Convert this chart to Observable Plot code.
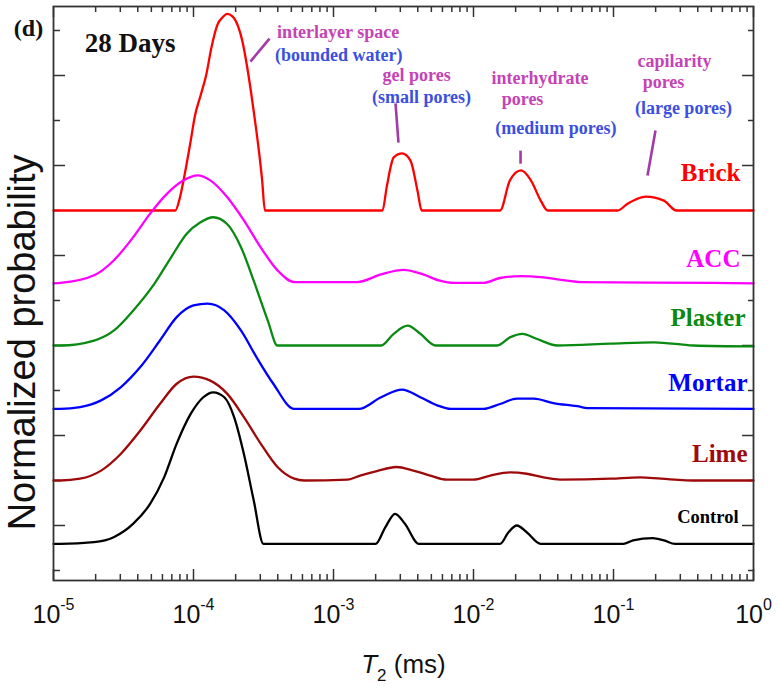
<!DOCTYPE html>
<html><head><meta charset="utf-8">
<script src="https://cdn.jsdelivr.net/npm/d3@7"></script>
<script src="https://cdn.jsdelivr.net/npm/@observablehq/plot@0.6"></script>
<style>
body{margin:0;background:#fff;}
#chart svg{display:block;}
</style>
</head><body><div id="chart"></div>
<script>
// ---------- data ----------
const seriesNames  = ["Brick", "ACC", "Plaster", "Mortar", "Lime", "Control"];
const seriesColors = ["#ff0000", "#ff00ff", "#0a8a12", "#0000ff", "#9e0a0a", "#000000"];

// log10(T2 / ms) sample positions and normalized probability (offset per series)
const brickLog = [-5,-4.13,-4.10,-4.06,-4.02,-3.99,-3.95,-3.91,-3.87,-3.83,-3.79,-3.76,-3.72,-3.68,-3.65,-3.62,-3.59,-3.56,-3.53,-3.51,-3.49,-2.65,-2.62,-2.57,-2.51,-2.45,-2.40,-2.37,-1.81,-1.74,-1.66,-1.59,-1.52,-1.47,-0.97,-0.90,-0.77,-0.64,-0.55,0];
const brickP   = [8.0,8.0,8.25,8.85,9.55,10.1,10.55,11.0,11.65,12.12,12.3,12.37,12.31,12.08,11.75,11.25,10.65,9.98,9.25,8.68,8.0,8.0,8.52,9.18,9.27,9.11,8.44,8.0,8.0,8.67,8.89,8.67,8.22,8.0,8.0,8.15,8.31,8.22,8.0,8.0];

const accLog = [-5,-4.95,-4.71,-4.57,-4.43,-4.31,-4.19,-4.07,-3.97,-3.88,-3.76,-3.64,-3.52,-3.40,-3.28,-2.83,-2.66,-2.50,-2.36,-2.24,-2.14,-1.93,-1.81,-1.66,-1.52,-1.33,-1.24,-0.30,0];
const accP   = [6.38,6.39,6.56,6.89,7.41,7.93,8.37,8.67,8.78,8.67,8.30,7.78,7.18,6.67,6.41,6.41,6.58,6.68,6.58,6.44,6.39,6.39,6.50,6.54,6.52,6.44,6.41,6.39,6.38];

const plasterLog = [-5,-4.95,-4.71,-4.57,-4.43,-4.28,-4.16,-4.05,-3.95,-3.86,-3.76,-3.66,-3.57,-3.47,-3.40,-2.66,-2.57,-2.47,-2.38,-2.27,-1.83,-1.74,-1.65,-1.55,-1.40,-1.02,-0.71,-0.43,0];
const plasterP   = [5.0,5.0,5.11,5.33,5.78,6.37,6.96,7.48,7.74,7.85,7.70,7.18,6.44,5.56,5.0,5.0,5.26,5.44,5.26,5.0,5.0,5.18,5.26,5.15,5.0,5.04,5.07,5.0,4.98];

const mortarLog = [-5,-4.95,-4.81,-4.66,-4.52,-4.38,-4.24,-4.12,-4.00,-3.90,-3.78,-3.66,-3.55,-3.43,-3.28,-2.82,-2.66,-2.51,-2.38,-2.26,-2.16,-1.93,-1.81,-1.69,-1.57,-1.43,-1.24,-1.19,0];
const mortarP   = [3.59,3.59,3.63,3.78,4.07,4.52,5.11,5.63,5.89,5.93,5.78,5.33,4.74,4.15,3.59,3.59,3.85,4.02,3.85,3.67,3.59,3.59,3.70,3.82,3.82,3.72,3.64,3.61,3.59];

const limeLog = [-5,-4.95,-4.81,-4.66,-4.52,-4.38,-4.24,-4.12,-4.00,-3.88,-3.76,-3.64,-3.52,-3.40,-3.28,-3.21,-2.90,-2.81,-2.69,-2.55,-2.43,-2.31,-2.19,-2.00,-1.88,-1.74,-1.62,-1.50,-1.38,-1.02,-0.81,-0.66,-0.40,0];
const limeP   = [2.0,2.0,2.04,2.22,2.59,3.11,3.70,4.15,4.31,4.22,3.93,3.41,2.82,2.30,2.04,2.0,2.02,2.11,2.21,2.30,2.22,2.11,2.02,2.02,2.11,2.18,2.15,2.07,2.02,2.04,2.07,2.04,2.0,2.0];

const controlLog = [-5,-4.95,-4.71,-4.57,-4.43,-4.31,-4.21,-4.12,-4.02,-3.93,-3.86,-3.78,-3.71,-3.64,-3.57,-3.50,-2.70,-2.63,-2.56,-2.49,-2.39,-1.81,-1.75,-1.69,-1.62,-1.52,-0.93,-0.86,-0.72,-0.64,-0.56,0];
const controlP   = [0.59,0.59,0.63,0.74,1.04,1.48,2.07,2.82,3.48,3.85,3.96,3.85,3.41,2.59,1.56,0.59,0.59,0.96,1.26,1.04,0.59,0.59,0.85,1.0,0.85,0.59,0.59,0.67,0.72,0.67,0.59,0.59];

// series labels (right side)
const labelT2 = [0.807, 0.807, 0.877, 0.906, 0.906, 0.782];
const labelY  = [8.84, 6.93, 5.62, 4.16, 2.60, 1.18];

// pore annotations
const annoText  = ["interlayer space", "(bounded water)", "gel pores", "(small pores)", "interhydrate", "pores", "(medium pores)", "capilarity", "pores", "(large pores)"];
const annoT2    = [1.08e-3, 1.09e-3, 3.92e-3, 4.25e-3, 0.0299, 0.0224, 0.0388, 0.273, 0.2275, 0.316];
const annoY     = [11.96, 11.44, 11.0, 10.51, 10.93, 10.47, 9.82, 11.31, 10.84, 10.27];
const annoKind  = ["type", "size", "type", "size", "type", "type", "size", "type", "type", "size"];

// annotation pointer segments (log10 T2, y)
const ptrLog1 = [-3.593, -2.557, -1.664, -0.700];
const ptrY1   = [11.31, 10.38, 9.33, 9.78];
const ptrLog2 = [-3.457, -2.536, -1.664, -0.757];
const ptrY2   = [11.82, 9.51, 9.04, 8.78];

// axis ticks
const xMajor = [1e-5, 1e-4, 1e-3, 1e-2, 1e-1, 1];
const xMinorMultipliers = [2, 3, 4, 5, 6, 7, 8, 9];
const yLong  = [1, 3, 5, 7, 9, 11];
const yShort = [0, 2, 4, 6, 8, 10, 12];

// ---------- build tables ----------
const logs  = [brickLog, accLog, plasterLog, mortarLog, limeLog, controlLog];
const probs = [brickP, accP, plasterP, mortarP, limeP, controlP];
const rows = [];
seriesNames.forEach((s, i) => logs[i].forEach((l, j) => rows.push({series: s, T2: 10 ** l, p: probs[i][j]})));
const labels = seriesNames.map((s, i) => ({series: s, T2: labelT2[i], y: labelY[i]}));
const annos = annoText.map((t, i) => ({text: t, T2: annoT2[i], y: annoY[i], kind: annoKind[i]}));
const ptrs = ptrLog1.map((l, i) => ({x1: 10 ** l, y1: ptrY1[i], x2: 10 ** ptrLog2[i], y2: ptrY2[i]}));
const xMinor = xMajor.slice(0, -1).flatMap(d => xMinorMultipliers.map(k => k * d));

// ---------- layout ----------
const W = 780, H = 688, mL = 53, mR = 27, mT = 6, mB = 108;
const fW = W - mL - mR, fH = H - mT - mB;
const serif = "'Liberation Serif', 'Times New Roman', serif";
const sans = "'Liberation Sans', Arial, sans-serif";
const axisColor = "#333";

const chart = Plot.plot({
  width: W, height: H,
  marginLeft: mL, marginRight: mR, marginTop: mT, marginBottom: mB,
  x: {type: "log", domain: [1e-5, 1], axis: null},
  y: {domain: [-10 / 45, 564 / 45], axis: null},
  color: {domain: seriesNames, range: seriesColors},
  style: {background: "#fff", overflow: "visible"},
  marks: [
    // ticks (inward)
    Plot.ruleX(xMajor, {x: d => d, insetTop: fH - 11, stroke: axisColor, strokeWidth: 1.5}),
    Plot.ruleX(xMinor, {x: d => d, insetTop: fH - 6, stroke: axisColor, strokeWidth: 1.5}),
    Plot.ruleX(xMajor, {x: d => d, insetBottom: fH - 11, stroke: axisColor, strokeWidth: 1.5}),
    Plot.ruleX(xMinor, {x: d => d, insetBottom: fH - 6, stroke: axisColor, strokeWidth: 1.5}),
    Plot.ruleY(yLong, {y: d => d, insetRight: fW - 12, stroke: axisColor, strokeWidth: 1.5}),
    Plot.ruleY(yShort, {y: d => d, insetRight: fW - 7, stroke: axisColor, strokeWidth: 1.5}),
    Plot.ruleY(yLong, {y: d => d, insetLeft: fW - 11, stroke: axisColor, strokeWidth: 1.5}),
    Plot.ruleY(yShort, {y: d => d, insetLeft: fW - 5, stroke: axisColor, strokeWidth: 1.5}),
    // curves
    Plot.line(rows, {x: "T2", y: "p", z: "series", stroke: "series", strokeWidth: 2.3, curve: "monotone-x"}),
    Plot.frame({stroke: axisColor, strokeWidth: 1.8}),
    // pointers
    Plot.link(ptrs, {x1: "x1", y1: "y1", x2: "x2", y2: "y2", stroke: "#a33aa8", strokeWidth: 2.6}),
    // annotations
    Plot.text(annos, {x: "T2", y: "y", text: "text", fill: d => d.kind === "type" ? "#c443b6" : "#3b4fe0",
      fontFamily: serif, fontWeight: "bold", fontSize: 18}),
    // series labels
    Plot.text(labels.filter(d => d.series !== "Control"), {x: "T2", y: "y", text: "series", fill: "series",
      textAnchor: "end", fontFamily: serif, fontWeight: "bold", fontSize: 25}),
    Plot.text(labels.filter(d => d.series === "Control"), {x: "T2", y: "y", text: "series", fill: "series",
      textAnchor: "end", fontFamily: serif, fontWeight: "bold", fontSize: 18.5}),
    // panel tags
    Plot.text(["(d)"], {x: 1e-5, y: 12.04, text: d => d, dx: -25, fontFamily: serif, fontWeight: "bold", fontSize: 24, fill: "#111"}),
    Plot.text(["28 Days"], {x: 3.52e-5, y: 11.71, text: d => d, fontFamily: serif, fontWeight: "bold", fontSize: 27, fill: "#111"}),
    // x tick labels (exponent text; turned into 10^n below)
    Plot.text(xMajor, {x: d => d, frameAnchor: "bottom", lineAnchor: "middle", textAnchor: "middle", dy: 34,
      text: d => "exp:" + Math.round(Math.log10(d)), fontFamily: sans, fontSize: 25, fill: "#111"}),
    // axis titles
    Plot.text(["T2 (ms)"], {frameAnchor: "bottom", lineAnchor: "middle", textAnchor: "middle", dy: 84,
      text: d => d, fontFamily: sans, fontSize: 26, fill: "#111"}),
    Plot.text(["Normalized probability"], {y: 5.07, frameAnchor: "left", lineAnchor: "middle", textAnchor: "middle",
      dx: -31, rotate: -90, text: d => d, fontFamily: sans, fontSize: 38, fill: "#111"})
  ]
});

// superscripts on x tick labels, subscript on x title
d3.select(chart).selectAll("text").each(function () {
  const t = d3.select(this);
  const s = this.textContent;
  if (s.startsWith("exp:")) {
    t.text("10");
    t.append("tspan").attr("dy", -13).attr("font-size", 16).text(s.slice(4));
  } else if (s === "T2 (ms)") {
    t.text("");
    t.append("tspan").attr("font-style", "italic").text("T");
    t.append("tspan").attr("dy", 8).attr("font-size", 17).text("2");
    t.append("tspan").attr("dy", -8).text(" (ms)");
  }
});

document.getElementById("chart").appendChild(chart);
</script>
</body></html>
